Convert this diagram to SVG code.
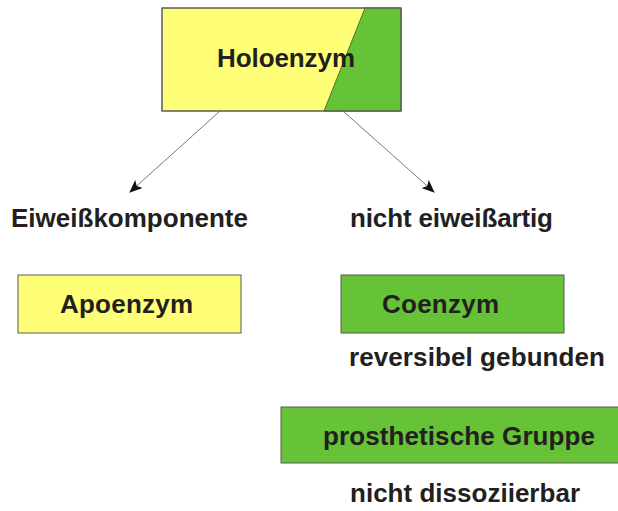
<svg xmlns="http://www.w3.org/2000/svg" width="618" height="511" viewBox="0 0 618 511">
<style>
text{font-family:"Liberation Sans",Arial,sans-serif;font-weight:bold;font-size:26px;fill:#231f20}
.box{stroke:#5a5a5a;stroke-width:1}
.y{fill:#ffff77}
.g{fill:#66c236}
.conn{stroke:#555;stroke-width:0.8;fill:none;marker-end:url(#ah)}
</style>
<defs>
<marker id="ah" markerWidth="13" markerHeight="11" refX="12" refY="5.5" orient="auto" markerUnits="userSpaceOnUse">
<path d="M0,0 L13,5.5 L0,11 L3,5.5 Z" fill="#111"/>
</marker>
</defs>
<rect width="618" height="511" fill="#fff"/>
<g id="holoenzym">
<rect class="box y" x="162" y="8" width="239" height="103"/>
<polygon class="g" points="365,8 401,8 401,111 324,111" stroke="#3a5a20" stroke-width="0.8"/>
<rect x="162" y="8" width="239" height="103" fill="none" stroke="#5a5a5a"/>
<text x="217" y="67" textLength="138">Holoenzym</text>
</g>
<g id="connectors">
<line class="conn" x1="220" y1="111" x2="130" y2="192"/>
<line class="conn" x1="343" y1="111" x2="434" y2="192"/>
</g>
<g id="label-eiweiss"><text x="11" y="227" textLength="237">Eiweißkomponente</text></g>
<g id="label-nicht-eiweiss"><text x="350" y="227" textLength="203">nicht eiweißartig</text></g>
<g id="apoenzym">
<rect class="box y" x="18" y="275" width="223" height="58"/>
<text x="60" y="313" textLength="133">Apoenzym</text>
</g>
<g id="coenzym">
<rect class="box g" x="341" y="275" width="223" height="58"/>
<text x="382" y="313" textLength="117">Coenzym</text>
</g>
<g id="label-reversibel"><text x="349" y="366" textLength="256">reversibel gebunden</text></g>
<g id="prosthetische">
<rect class="box g" x="281" y="407" width="340" height="56"/>
<text x="323" y="445" textLength="272">prosthetische Gruppe</text>
</g>
<g id="label-dissoziierbar"><text x="350" y="502" textLength="230">nicht dissoziierbar</text></g>
</svg>
